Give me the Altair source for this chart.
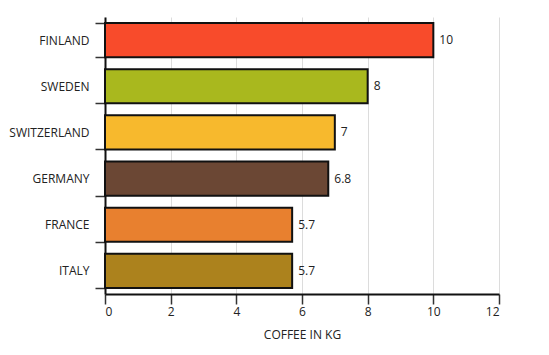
import altair as alt
import pandas as pd

countries = ["FINLAND", "SWEDEN", "SWITZERLAND", "GERMANY", "FRANCE", "ITALY"]
values = [10, 8, 7, 6.8, 5.7, 5.7]
colors = ["#F84B2B", "#A9B81E", "#F7B92D", "#6B4734", "#E8802F", "#AC821D"]
x_ticks = [0, 2, 4, 6, 8, 10, 12]

df = pd.DataFrame({"country": countries, "value": values, "color": colors})
df["label"] = [f"{v:g}" for v in values]

FONT = "Open Sans"

y_enc = alt.Y(
    "country:N",
    sort=countries,
    title=None,
    scale=alt.Scale(paddingInner=0.26, paddingOuter=0.13),
    axis=alt.Axis(
        tickBand="extent",
        tickSize=10,
        tickColor="#333",
        tickWidth=1.5,
        domainColor="#111",
        domainWidth=2,
        labelPadding=6,
        labelFont=FONT,
        labelFontSize=12,
        labelColor="#222",
        grid=False,
    ),
)

x_enc = alt.X(
    "value:Q",
    title="COFFEE IN KG",
    scale=alt.Scale(domain=[0, 12], nice=False),
    axis=alt.Axis(
        values=x_ticks,
        tickSize=10,
        tickColor="#333",
        tickWidth=1.5,
        domainColor="#111",
        domainWidth=2,
        grid=True,
        gridColor="#dcdcdc",
        gridWidth=1,
        labelFont=FONT,
        labelFontSize=12,
        labelColor="#222",
        labelPadding=2,
        titleFont=FONT,
        titleFontSize=12,
        titleFontWeight="normal",
        titleColor="#222",
        titlePadding=12,
    ),
)

bars = alt.Chart(df).mark_bar(stroke="#111", strokeWidth=2).encode(
    x=x_enc,
    y=y_enc,
    color=alt.Color("color:N", scale=None),
)

text = alt.Chart(df).mark_text(
    align="left", baseline="middle", dx=6, font=FONT, fontSize=12, color="#222"
).encode(
    x="value:Q",
    y=alt.Y("country:N", sort=countries),
    text="label:N",
)

chart = (
    alt.layer(bars, text)
    .properties(
        width=394,
        height=277,
        autosize="none",
        padding={"left": 105, "top": 17, "right": 50, "bottom": 61},
    )
    .configure_view(stroke=None)
)

chart.save("out.html", embed_options={"renderer": "svg", "actions": False})
